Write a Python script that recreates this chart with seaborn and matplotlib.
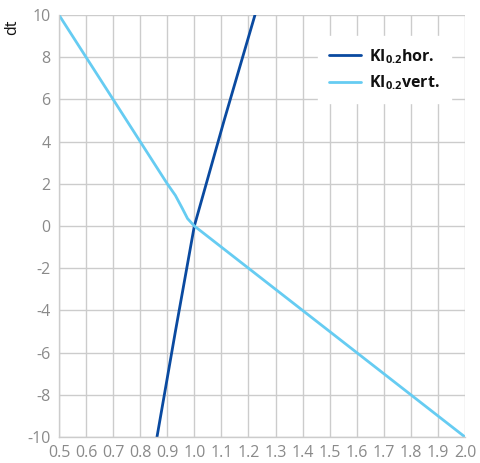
import matplotlib
matplotlib.use("Agg")
import matplotlib.pyplot as plt
import seaborn as sns
import pandas as pd
from matplotlib.ticker import MultipleLocator

# data
hor_x = [0.862, 0.93, 1.0, 1.11, 1.224]
hor_y = [-10, -5, 0, 5, 10]
vert_x = [0.5, 0.7, 0.9, 0.93, 0.955, 0.975, 1.0, 1.2, 2.0]
vert_y = [10, 6, 2, 1.45, 0.85, 0.35, 0, -2, -10]
series_names = ["KI$_{\\mathbf{0.2}}$hor.", "KI$_{\\mathbf{0.2}}$vert."]
colors = ["#0a4aa0", "#66ccf2"]
x_ticks = [0.5, 0.6, 0.7, 0.8, 0.9, 1.0, 1.1, 1.2, 1.3, 1.4, 1.5, 1.6, 1.7, 1.8, 1.9, 2.0]
y_ticks = [-10, -8, -6, -4, -2, 0, 2, 4, 6, 8, 10]

df = pd.concat([
    pd.DataFrame({"x": hor_x, "y": hor_y, "s": series_names[0]}),
    pd.DataFrame({"x": vert_x, "y": vert_y, "s": series_names[1]}),
])

sns.set_style("white")
plt.rcParams["font.family"] = ["Open Sans", "DejaVu Sans"]
plt.rcParams["mathtext.fontset"] = "custom"
plt.rcParams["mathtext.rm"] = "Open Sans"
plt.rcParams["mathtext.bf"] = "Open Sans:bold"

fig = plt.figure(figsize=(4.81, 4.63), dpi=100)
ax = fig.add_axes([59/481, 1-437/463, (465-59)/481, (437-15)/463])

sns.lineplot(data=df, x="x", y="y", hue="s", palette=colors, sort=False,
             estimator=None, linewidth=2.0, ax=ax)

ax.set_xlim(0.5, 2.0)
ax.set_ylim(-10, 10)
ax.set_xticks(x_ticks)
ax.set_xticklabels([f"{v:.1f}" for v in x_ticks])
ax.set_yticks(y_ticks)
ax.set_yticklabels([str(v) for v in y_ticks])
ax.yaxis.set_minor_locator(MultipleLocator(1))
ax.grid(True, which="major", color="#cccccc", linewidth=1.0)
ax.set_axisbelow(True)
for side in ["top", "right"]:
    ax.spines[side].set_visible(False)
for side in ["left", "bottom"]:
    ax.spines[side].set_color("#cccccc")
    ax.spines[side].set_linewidth(1.0)
ax.tick_params(axis="both", which="both", colors="#cccccc", length=4, width=1.0,
               labelcolor="#8a8a8a", labelsize=11.5, direction="out")
ax.tick_params(axis="both", which="major", pad=2)
ax.set_xlabel("")
ax.set_ylabel("dt", loc="top", fontsize=11.5, color="#111111")
ax.yaxis.set_label_coords(-0.095, 0.99)

leg = ax.legend(loc="upper right", bbox_to_anchor=(0.985, 0.97), frameon=True,
                fancybox=False, framealpha=1, edgecolor="white",
                prop={"weight": "bold", "size": 11.5}, handlelength=2.0,
                handletextpad=0.5, borderpad=0.7, labelspacing=0.5)
for line in leg.get_lines():
    line.set_linewidth(2.0)
for t in leg.get_texts():
    t.set_color("#111111")

fig.savefig("out.png", dpi=100)
